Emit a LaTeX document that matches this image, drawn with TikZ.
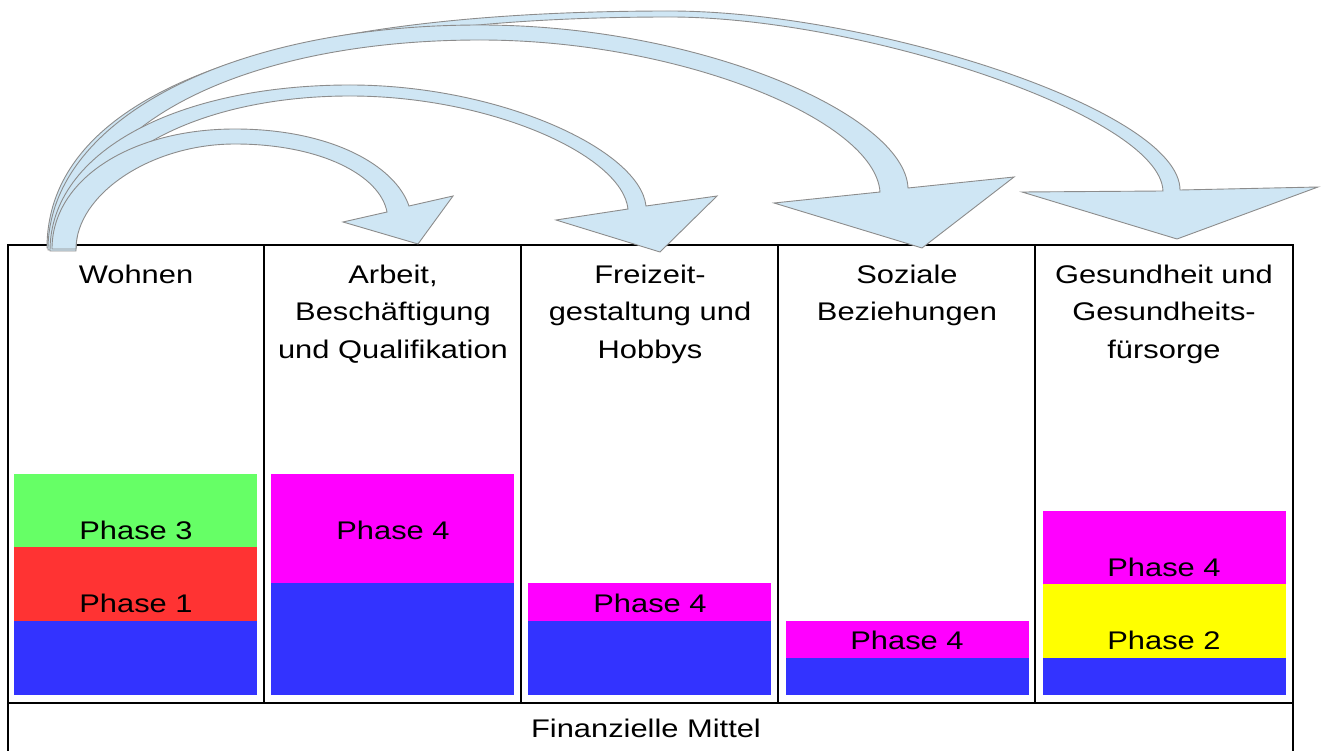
\documentclass[tikz,border=0pt]{standalone}
\usepackage{fontspec}
\setmainfont{Liberation Sans}[FakeStretch=1.21]
\definecolor{phgreen}{HTML}{66FF66}
\definecolor{phred}{HTML}{FF3333}
\definecolor{phblue}{HTML}{3333FF}
\definecolor{phmagenta}{HTML}{FF00FF}
\definecolor{phyellow}{HTML}{FFFF00}
\definecolor{bogenfill}{HTML}{CFE6F4}
\definecolor{bogenline}{HTML}{8C8C8C}
\tikzset{
  rahmen/.style={black, line width=1.1pt},
  bogen/.style={fill=bogenfill, draw=bogenline, line width=0.9pt},
  phase/.style={anchor=base, inner sep=0pt},
  kopf/.style={anchor=base, align=center, inner sep=0pt}
}
\begin{document}
\begin{tikzpicture}[
  x=1pt,
  y=-1pt,
  font=\fontsize{25.5}{37.5}\selectfont
]
\useasboundingbox (0,0) rectangle (1324,751);

% Wohnen
\fill[phblue] (14,621) rectangle (257,695);
\fill[phred] (14,547) rectangle (257,621);
\fill[phgreen] (14,474) rectangle (257,547);
\node[phase] (w3) at (136,539) {Phase 3};
\node[phase] (w1) at (136,612) {Phase 1};

% Arbeit
\fill[phblue] (271,583) rectangle (514,695);
\fill[phmagenta] (271,474) rectangle (514,583);
\node[phase] (a4) at (393,539) {Phase 4};

% Freizeit
\fill[phblue] (528,621) rectangle (771,695);
\fill[phmagenta] (528,583) rectangle (771,621);
\node[phase] (f4) at (650,612) {Phase 4};

% Soziale Beziehungen
\fill[phblue] (786,658) rectangle (1029,695);
\fill[phmagenta] (786,621) rectangle (1029,658);
\node[phase] (s4) at (907,649) {Phase 4};

% Gesundheit
\fill[phblue] (1043,658) rectangle (1286,695);
\fill[phyellow] (1043,584) rectangle (1286,658);
\fill[phmagenta] (1043,511) rectangle (1286,584);
\node[phase] (g4) at (1164,576) {Phase 4};
\node[phase] (g2) at (1164,649) {Phase 2};

% Rahmen
\draw[rahmen] (8,751) -- (8,245) -- (1293,245) -- (1293,751);
\draw[rahmen] (8,703) -- (1293,703);
\foreach \x in {264,521,778,1035} {
  \draw[rahmen] (\x,245) -- (\x,703);
}

% Kopfzeilen (base = letzte Zeile)
\node[kopf] (wohnen) at (136,283) {Wohnen};
\node[kopf] (arbeit) at (393,358) {Arbeit,\\Besch\"aftigung\\und Qualifikation};
\node[kopf] (freizeit) at (650,358) {Freizeit-\\gestaltung und\\Hobbys};
\node[kopf] (soziale) at (907,320.5) {Soziale\\Beziehungen};
\node[kopf] (gesundheit) at (1164,358) {Gesundheit und\\Gesundheits-\\f\"ursorge};
\node[kopf] (mittel) at (646,737) {Finanzielle Mittel};

% Bogen nach Gesundheit
\draw[bogen] (47,248) .. controls (47,100) and (250,11) .. (670,11)
  .. controls (870,11) and (1180,110) .. (1180,190)
  -- (1318,187) -- (1177,239) -- (1022,192) -- (1163,191)
  .. controls (1160,115) and (860,17) .. (670,17)
  .. controls (260,17) and (72,110) .. (72,248) -- cycle;

% Bogen nach Soziale Beziehungen
\draw[bogen] (48,250) .. controls (48,120) and (230,25) .. (480,25)
  .. controls (700,25) and (905,115) .. (908,188)
  -- (1014,177) -- (922,248) -- (774,203) -- (880,192)
  .. controls (875,120) and (680,40) .. (480,40)
  .. controls (245,40) and (73,125) .. (73,250) -- cycle;

% Bogen nach Freizeit
\draw[bogen] (50,251) .. controls (50,150) and (180,85) .. (350,85)
  .. controls (500,85) and (640,150) .. (646,206)
  -- (717,196) -- (660,252) -- (556,220) -- (628,209)
  .. controls (622,155) and (490,96) .. (350,96)
  .. controls (195,96) and (76,160) .. (76,251) -- cycle;

% Bogen nach Arbeit
\draw[bogen] (52,249) .. controls (52,180) and (130,129) .. (235,129)
  .. controls (330,129) and (395,165) .. (409,206)
  -- (453,196) -- (418,244) -- (343,222) -- (387,212)
  .. controls (380,175) and (320,144) .. (235,144)
  .. controls (150,144) and (76,195) .. (76,249) -- cycle;
\end{tikzpicture}
\end{document}
